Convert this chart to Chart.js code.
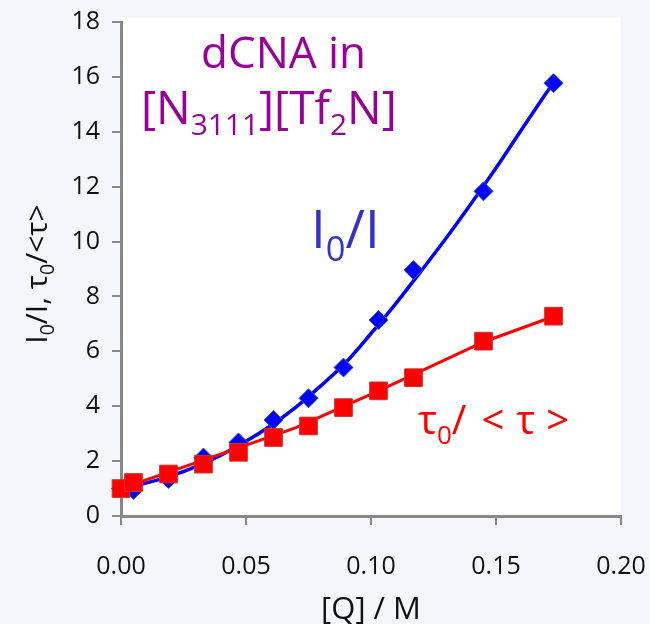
<!DOCTYPE html>
<html>
<head>
<meta charset="utf-8">
<script src="https://cdn.jsdelivr.net/npm/chart.js@4.4.1/dist/chart.umd.min.js"></script>
<style>
  html, body { margin: 0; padding: 0; background: #f5f6fc; }
  #wrap { width: 650px; height: 624px; }
</style>
</head>
<body>
<div id="wrap"><canvas id="c" width="650" height="624"></canvas></div>
<script>
// Quencher concentration [Q] / M for each measurement
const quencherConc = [0, 0.005, 0.019, 0.033, 0.047, 0.061, 0.075, 0.089, 0.103, 0.117, 0.145, 0.173];
// Steady-state intensity ratio I0/I
const intensityRatio = [1.0, 0.95, 1.35, 2.13, 2.68, 3.5, 4.29, 5.41, 7.14, 8.96, 11.83, 15.77];
// Lifetime ratio tau0/<tau>
const lifetimeRatio = [1.0, 1.22, 1.53, 1.89, 2.32, 2.86, 3.28, 3.95, 4.56, 5.04, 6.37, 7.28];

// Fitted curve through the intensity data
const intensityFitConc = [0, 0.01, 0.02, 0.03, 0.04, 0.05, 0.06, 0.07, 0.08, 0.09, 0.10, 0.11, 0.12, 0.13, 0.14, 0.15, 0.16, 0.173];
const intensityFit = [0.97, 1.2, 1.46, 1.8, 2.22, 2.72, 3.3, 3.97, 4.75, 5.6, 6.65, 7.75, 8.92, 10.12, 11.38, 12.68, 14.05, 15.8];
// Fitted line through the lifetime data
const lifetimeFitConc = [0, 0.035, 0.07, 0.103, 0.145, 0.173];
const lifetimeFit = [1.0, 2.1, 3.22, 4.56, 6.34, 7.27];

const xTickLabels = ['0.00', '0.05', '0.10', '0.15', '0.20'];
const yTickLabels = ['0', '2', '4', '6', '8', '10', '12', '14', '16', '18'];

const toPoints = (xs, ys) => xs.map((x, i) => ({ x: x, y: ys[i] }));

const SANS = '"Open Sans", sans-serif';

// Text with subscripts: parts = [[text, isSubscript, extraGapAfter], ...]
function drawRich(ctx, parts, x, y, size, family, color, align) {
  ctx.save();
  ctx.fillStyle = color;
  ctx.textBaseline = 'alphabetic';
  ctx.textAlign = 'left';
  const subSize = size * 0.65;
  const fontFor = sub => (sub ? subSize : size) + 'px ' + family;
  let total = 0;
  const widths = parts.map(([t, sub, gap]) => {
    ctx.font = fontFor(sub);
    const w = ctx.measureText(t).width + (gap || 0);
    total += w;
    return w;
  });
  let cx = align === 'center' ? x - total / 2 : x;
  parts.forEach(([t, sub], i) => {
    ctx.font = fontFor(sub);
    ctx.fillText(t, cx, sub ? y + size * 0.24 : y);
    cx += widths[i];
  });
  ctx.restore();
}

const backdrop = {
  id: 'backdrop',
  beforeDraw(chart) {
    const { ctx, chartArea: a } = chart;
    ctx.save();
    ctx.fillStyle = '#f5f6fc';
    ctx.fillRect(0, 0, chart.width, chart.height);
    ctx.fillStyle = '#ffffff';
    ctx.fillRect(a.left, a.top - 4, a.right - a.left, a.bottom - a.top + 4);
    ctx.restore();
  }
};

const labels = {
  id: 'labels',
  afterDraw(chart) {
    const ctx = chart.ctx;
    // axis titles
    drawRich(ctx, [['[Q] / M', false]], 371, 619, 31, SANS, '#111', 'center');
    ctx.save();
    ctx.translate(47, 274);
    ctx.rotate(-Math.PI / 2);
    drawRich(ctx, [['I', false], ['0', true], ['/I, \u03c4', false], ['0', true], ['/<\u03c4>', false]], 0, 0, 30, SANS, '#111', 'center');
    ctx.restore();
    // sample annotation
    drawRich(ctx, [['dCNA in', false]], 201, 68, 44, SANS, '#990099', 'left');
    drawRich(ctx, [['[N', false], ['3111', true], ['][Tf', false], ['2', true], ['N]', false]], 141, 124, 46, SANS, '#990099', 'left');
    // series annotations
    drawRich(ctx, [['I', false], ['0', true], ['/I', false]], 311, 248, 53, SANS, '#3333cc', 'left');
    drawRich(ctx, [['\u03c4', false], ['0', true], ['/', false, 15], ['<', false, 12], ['\u03c4', false, 11], ['>', false]], 418, 434, 40, SANS, '#ff0000', 'left');
  }
};

new Chart(document.getElementById('c'), {
  type: 'scatter',
  data: {
    datasets: [
      {
        label: 'tau0/<tau>',
        data: toPoints(quencherConc, lifetimeRatio),
        pointStyle: 'rect',
        pointRadius: 12.5,
        pointHoverRadius: 12.5,
        backgroundColor: '#ff0000',
        borderColor: '#d03030',
        borderWidth: 1,
        showLine: false,
        clip: false,
        order: 0
      },
      {
        label: 'tau0/<tau> fit',
        data: toPoints(lifetimeFitConc, lifetimeFit),
        showLine: true,
        borderColor: '#ff0000',
        borderWidth: 3,
        pointRadius: 0,
        tension: 0,
        order: 1
      },
      {
        label: 'I0/I',
        data: toPoints(quencherConc, intensityRatio),
        pointStyle: 'rectRot',
        pointRadius: 9.5,
        pointHoverRadius: 9.5,
        backgroundColor: '#0000ff',
        borderColor: '#3a5aa8',
        borderWidth: 1,
        showLine: false,
        clip: false,
        order: 2
      },
      {
        label: 'I0/I fit',
        data: toPoints(intensityFitConc, intensityFit),
        showLine: true,
        borderColor: '#0000ff',
        borderWidth: 3.5,
        pointRadius: 0,
        cubicInterpolationMode: 'monotone',
        order: 3
      }
    ]
  },
  options: {
    responsive: false,
    devicePixelRatio: 1,
    animation: false,
    layout: { padding: { top: 22, right: 29, left: 0, bottom: 0 } },
    plugins: { legend: { display: false }, tooltip: { enabled: false } },
    scales: {
      x: {
        type: 'linear',
        min: 0,
        max: 0.2,
        afterFit(scale) {
          scale.height = 108;
          scale.paddingLeft = 0;
          scale.paddingRight = 0;
        },
        ticks: {
          stepSize: 0.05,
          autoSkip: false,
          maxRotation: 0,
          padding: 27,
          color: '#111',
          font: { family: SANS, size: 25 },
          callback: (v, i) => xTickLabels[i]
        },
        grid: { drawOnChartArea: false, drawTicks: true, tickLength: 9, color: '#888', lineWidth: 2 },
        border: { display: true, color: '#888', width: 3 }
      },
      y: {
        min: 0,
        max: 18,
        afterFit(scale) {
          scale.width = 121;
          scale.paddingTop = 0;
          scale.paddingBottom = 0;
        },
        ticks: {
          stepSize: 2,
          autoSkip: false,
          padding: 12,
          color: '#111',
          font: { family: SANS, size: 25 },
          callback: (v, i) => yTickLabels[i]
        },
        grid: { drawOnChartArea: false, drawTicks: true, tickLength: 9, color: '#888', lineWidth: 2 },
        border: { display: true, color: '#888', width: 3 }
      }
    }
  },
  plugins: [backdrop, labels]
});
</script>
</body>
</html>
